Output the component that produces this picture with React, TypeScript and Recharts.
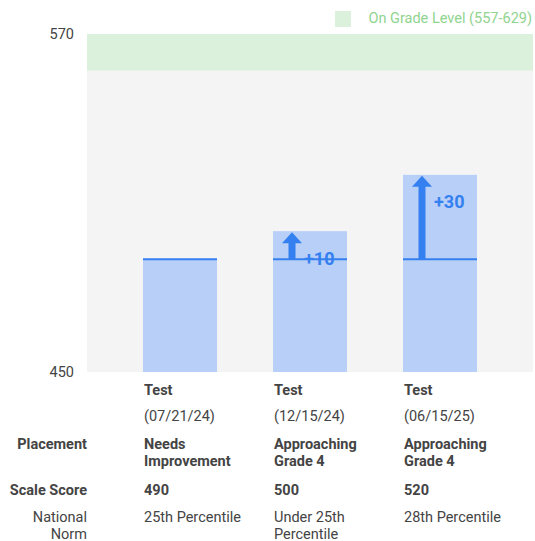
import React from 'react';
import {
  ComposedChart,
  Bar,
  XAxis,
  YAxis,
  CartesianGrid,
  ReferenceArea,
} from 'recharts';

const tests = ['Test', 'Test', 'Test'];
const dates = ['07/21/24', '12/15/24', '06/15/25'];
const scores = [490, 500, 520];
const placements = [
  ['Needs', 'Improvement'],
  ['Approaching', 'Grade 4'],
  ['Approaching', 'Grade 4'],
];
const norms = [['25th Percentile'], ['Under 25th', 'Percentile'], ['28th Percentile']];
const yDomain = [450, 570];
const gradeLevel = [557, 629];

const BASE = scores[0];
const FONT = 'Roboto, sans-serif';
const BAR_FILL = '#b8cff7';
const BLUE = '#3580f0';
const TEXT = '#444';
const FS = 14.5;

const data = dates.map((d, i) => ({
  name: tests[i],
  date: d,
  score: scores[i],
  gain: scores[i] - BASE,
  placement: placements[i],
  norm: norms[i],
}));

// bar with a line at the first score and an arrow for the gain
const ScoreBar = (props: any) => {
  const { x, y, width, height, payload } = props;
  const bottom = y + height;
  const perUnit = height / (payload.score - yDomain[0]);
  const baseY = bottom - (BASE - yDomain[0]) * perUnit;
  const ax = x + 19;
  return (
    <g>
      <rect x={x} y={y} width={width} height={height} fill={BAR_FILL} />
      <line x1={x} x2={x + width} y1={baseY} y2={baseY} stroke={BLUE} strokeWidth={2} />
      {payload.gain > 0 && (
        <g>
          <rect x={ax - 3.5} y={y + 10} width={7} height={baseY - y - 10} fill={BLUE} />
          <polygon points={`${ax - 10},${y + 12} ${ax + 10},${y + 12} ${ax},${y + 1}`} fill={BLUE} />
          <text
            x={ax + 12}
            y={y + 27}
            dominantBaseline="central"
            fontFamily={FONT}
            fontSize={18}
            fontWeight="bold"
            fill={BLUE}
          >
            +{payload.gain}
          </text>
        </g>
      )}
    </g>
  );
};

const rowLabel = (x: number, y: number, s: string, bold?: boolean, anchor = 'start') => (
  <text
    key={`${s}-${y}-${x}`}
    x={x}
    y={y}
    textAnchor={anchor}
    dominantBaseline="central"
    fontFamily={FONT}
    fontSize={FS}
    fontWeight={bold ? 'bold' : 'normal'}
    fill={TEXT}
  >
    {s}
  </text>
);

const TableTick = (props: any) => {
  const { x, y, index } = props;
  const d = data[index];
  const lx = x - 36;
  return (
    <g>
      {rowLabel(lx, y + 18, d.name, true)}
      {rowLabel(lx, y + 44, `(${d.date})`)}
      {d.placement.map((s, i) => rowLabel(lx, y + 72 + i * 17, s, true))}
      {rowLabel(lx, y + 118, String(d.score), true)}
      {d.norm.map((s, i) => rowLabel(lx, y + 145 + i * 17, s))}
      {index === 0 && (
        <g>
          {rowLabel(87, y + 72, 'Placement', true, 'end')}
          {rowLabel(87, y + 118, 'Scale Score', true, 'end')}
          {rowLabel(87, y + 145, 'National', false, 'end')}
          {rowLabel(87, y + 162, 'Norm', false, 'end')}
        </g>
      )}
    </g>
  );
};

export default function App() {
  return (
    <div style={{ position: 'absolute', left: 0, top: 0, width: 535, height: 541, background: '#fff' }}>
      <div
        style={{
          position: 'absolute',
          top: 10,
          right: 3,
          display: 'flex',
          alignItems: 'center',
          fontFamily: FONT,
          zIndex: 2,
        }}
      >
        <span style={{ width: 16, height: 16, background: '#dcf1dc', marginRight: 17 }} />
        <span style={{ fontSize: FS, color: '#8fd48f' }}>
          On Grade Level ({gradeLevel[0]}-{gradeLevel[1]})
        </span>
      </div>
      <ComposedChart
        width={535}
        height={541}
        data={data}
        margin={{ top: 34, right: 2, left: 0, bottom: 0 }}
      >
        <CartesianGrid fill="#f5f4f5" horizontal={false} vertical={false} />
        <XAxis xAxisId="band" type="number" hide />
        <ReferenceArea
          xAxisId="band"
          y1={gradeLevel[0]}
          y2={gradeLevel[1]}
          fill="#dcf1dc"
          fillOpacity={1}
          ifOverflow="hidden"
        />
        <XAxis
          dataKey="date"
          height={169}
          padding={{ left: 28, right: 28 }}
          axisLine={false}
          tickLine={false}
          tickSize={0}
          tickMargin={0}
          tick={<TableTick />}
          interval={0}
        />
        <YAxis
          width={87}
          domain={yDomain}
          ticks={yDomain}
          allowDataOverflow
          axisLine={false}
          tickLine={false}
          tickMargin={7}
          tick={{ fontSize: FS, fill: TEXT, fontFamily: FONT }}
        />
        <Bar dataKey="score" barSize={74} shape={<ScoreBar />} isAnimationActive={false} />
      </ComposedChart>
    </div>
  );
}
